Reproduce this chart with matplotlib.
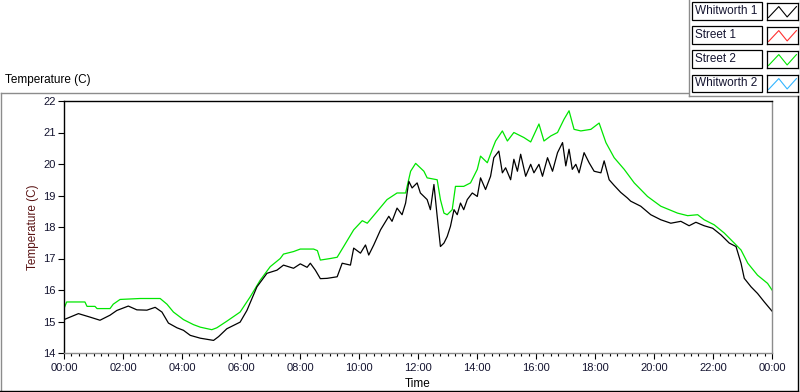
import matplotlib
matplotlib.use("Agg")
import matplotlib.pyplot as plt
from matplotlib.lines import Line2D
from matplotlib.patches import Rectangle
from matplotlib.ticker import MultipleLocator

plt.rcParams['font.family'] = ['Liberation Sans', 'DejaVu Sans']

# ---------------- data ----------------
series_names = ["Whitworth 1", "Street 1", "Street 2", "Whitworth 2"]
series_colors = ["#000000", "#ff3030", "#00e600", "#33b5ff"]

hours_w1 = [0.00, 0.49, 0.88, 1.22, 1.56, 1.79, 2.18, 2.47, 2.81, 3.09, 3.32, 3.54, 3.83,
            4.05, 4.28, 4.62, 5.07, 5.24, 5.52, 5.97, 6.20, 6.54, 6.88, 7.22, 7.44, 7.78,
            8.01, 8.24, 8.35, 8.52, 8.69, 8.92, 9.26, 9.43, 9.71, 9.82, 10.05, 10.22, 10.33,
            10.50, 10.73, 11.01, 11.12, 11.29, 11.46, 11.58, 11.69, 11.80, 11.97, 12.08,
            12.31, 12.42, 12.54, 12.65, 12.76, 12.88, 12.99, 13.10, 13.22, 13.33, 13.44,
            13.55, 13.67, 13.84, 14.01, 14.12, 14.29, 14.46, 14.57, 14.74, 14.86, 14.97,
            15.14, 15.25, 15.37, 15.48, 15.65, 15.82, 15.93, 16.10, 16.22, 16.39, 16.56,
            16.73, 16.90, 17.01, 17.12, 17.23, 17.35, 17.46, 17.63, 17.80, 17.97, 18.20,
            18.31, 18.48, 18.65, 18.87, 19.10, 19.21, 19.55, 19.89, 20.23, 20.57, 20.91,
            21.19, 21.42, 21.70, 21.99, 22.27, 22.55, 22.78, 22.95, 23.06, 23.29, 23.51,
            23.74, 24.00]
temp_w1 = [15.06, 15.25, 15.14, 15.04, 15.20, 15.35, 15.49, 15.37, 15.36, 15.45, 15.30, 14.95, 14.80,
           14.72, 14.56, 14.47, 14.40, 14.52, 14.77, 14.98, 15.35, 16.10, 16.53, 16.63, 16.79, 16.69,
           16.83, 16.72, 16.85, 16.63, 16.36, 16.37, 16.42, 16.85, 16.79, 17.33, 17.17, 17.43, 17.11,
           17.43, 17.91, 18.34, 18.18, 18.60, 18.39, 18.76, 19.45, 19.24, 19.40, 19.08,
           18.87, 18.55, 19.35, 18.34, 17.38, 17.49, 17.70, 18.02, 18.55, 18.39, 18.76,
           18.55, 18.87, 19.08, 18.97, 19.56, 19.19, 19.61, 20.20, 20.41, 19.72, 19.88,
           19.50, 20.15, 19.77, 20.31, 19.61, 19.99, 19.72, 19.99, 19.61, 20.20, 19.77,
           20.36, 20.68, 19.94, 20.47, 19.83, 19.99, 19.72, 20.36, 20.04, 19.77, 19.72,
           20.10, 19.50, 19.32, 19.10, 18.92, 18.82, 18.66, 18.39, 18.23, 18.12, 18.18,
           18.04, 18.15, 18.04, 17.96, 17.75, 17.49, 17.38, 16.85, 16.37, 16.10, 15.89,
           15.62, 15.33]

hours_s2 = [0.00, 0.09, 0.71, 0.78, 1.05, 1.12, 1.56, 1.67, 1.90, 2.58, 3.26, 3.49, 3.71,
            4.05, 4.39, 4.62, 5.01, 5.18, 5.52, 5.97, 6.31, 6.65, 6.99, 7.33, 7.44, 7.78,
            8.01, 8.46, 8.59, 8.69, 9.03, 9.26, 9.48, 9.82, 10.11, 10.28, 10.62, 10.95,
            11.29, 11.58, 11.75, 11.92, 12.20, 12.31, 12.65, 12.76, 12.88, 12.99, 13.16,
            13.27, 13.55, 13.78, 14.01, 14.12, 14.35, 14.52, 14.63, 14.86, 15.03, 15.25,
            15.59, 15.82, 16.10, 16.27, 16.50, 16.73, 16.95, 17.12, 17.29, 17.52, 17.86,
            18.14, 18.37, 18.65, 18.99, 19.33, 19.78, 20.23, 20.80, 21.14, 21.48, 21.70,
            22.04, 22.38, 22.72, 22.95, 23.18, 23.51, 23.85, 24.00]
temp_s2 = [15.41, 15.62, 15.62, 15.48, 15.48, 15.41, 15.41, 15.55, 15.70, 15.73, 15.73, 15.55, 15.30,
           15.06, 14.90, 14.82, 14.74, 14.80, 15.01, 15.30, 15.78, 16.31, 16.74, 17.00, 17.14, 17.22,
           17.30, 17.30, 17.25, 16.95, 17.00, 17.04, 17.38, 17.91, 18.20, 18.12, 18.50, 18.87,
           19.08, 19.08, 19.77, 20.02, 19.77, 19.56, 19.50, 18.87, 18.44, 18.39, 18.55,
           19.29, 19.29, 19.40, 19.83, 20.25, 20.04, 20.47, 20.73, 21.05, 20.73, 21.00,
           20.84, 20.70, 21.27, 20.73, 20.89, 21.00, 21.42, 21.69, 21.10, 21.05, 21.10,
           21.30, 20.68, 20.20, 19.83, 19.40, 18.97, 18.66, 18.44, 18.36, 18.39, 18.23,
           18.07, 17.81, 17.49, 17.27, 16.85, 16.47, 16.21, 16.00]

hours_s1, temp_s1 = [], []
hours_w2, temp_w2 = [], []

x_ticks = [0, 2, 4, 6, 8, 10, 12, 14, 16, 18, 20, 22, 24]
x_labels = ["00:00", "02:00", "04:00", "06:00", "08:00", "10:00", "12:00",
            "14:00", "16:00", "18:00", "20:00", "22:00", "00:00"]
y_ticks = [14, 15, 16, 17, 18, 19, 20, 21, 22]

# ---------------- figure ----------------
W, H = 800, 392
fig = plt.figure(figsize=(W / 100, H / 100), dpi=100)
fig.patch.set_facecolor("white")

def fx(px):
    return px / W

def fy(py):
    return 1 - py / H

GRAY = "#8c8c8c"
TXT = "#141430"

# outer panel frame
fig.add_artist(Line2D([fx(0.5), fx(688)], [fy(92.5), fy(92.5)], color=GRAY, lw=1.0))
fig.add_artist(Line2D([fx(688.5), fx(688.5)], [fy(0), fy(95.5)], color=GRAY, lw=1.0))
fig.add_artist(Line2D([fx(688.5), fx(798)], [fy(95.5), fy(95.5)], color=GRAY, lw=1.0))
fig.add_artist(Line2D([fx(0.5), fx(0.5)], [fy(92.5), fy(391)], color=GRAY, lw=1.0))
fig.add_artist(Line2D([fx(0), fx(798)], [fy(391), fy(391)], color="black", lw=1.0))
fig.add_artist(Line2D([fx(797.8), fx(797.8)], [fy(95.5), fy(391)], color="black", lw=1.0))
fig.add_artist(Line2D([fx(799.5), fx(799.5)], [fy(0), fy(95.5)], color=GRAY, lw=1.0))

# chart title (top-left)
fig.text(fx(5), fy(80), "Temperature (C)", fontsize=8.5, color="black",
         ha="left", va="center")

# main axes
L, R, T, B = 64, 772, 101, 353
ax = fig.add_axes([fx(L), fy(B), fx(R - L), fy(T) - fy(B)])
ax.set_facecolor("white")

ax.plot(hours_s2, temp_s2, color=series_colors[2], lw=0.9)
ax.plot(hours_w1, temp_w1, color=series_colors[0], lw=0.9)
ax.plot(hours_s1, temp_s1, color=series_colors[1], lw=0.9)
ax.plot(hours_w2, temp_w2, color=series_colors[3], lw=0.9)

ax.set_xlim(0, 24)
ax.set_ylim(14, 22)
ax.set_xticks(x_ticks)
ax.set_xticklabels(x_labels)
ax.xaxis.set_minor_locator(MultipleLocator(0.25))
ax.set_yticks(y_ticks)
ax.set_yticklabels([str(v) for v in y_ticks])

ax.tick_params(axis="x", which="major", direction="out", length=4, width=0.8,
               labelsize=8, colors="black", labelcolor=TXT, pad=3)
ax.tick_params(axis="x", which="minor", direction="out", length=2.5, width=0.8,
               colors="black")
ax.tick_params(axis="y", which="major", direction="out", length=4, width=0.8,
               labelsize=8, colors="black", labelcolor=TXT, pad=2)

for side in ("left", "top"):
    ax.spines[side].set_color("black")
    ax.spines[side].set_linewidth(1.0)
for side in ("right", "bottom"):
    ax.spines[side].set_color(GRAY)
    ax.spines[side].set_linewidth(1.0)

ax.set_xlabel("Time", fontsize=8.5, color="black", labelpad=4)
ax.set_ylabel("Temperature (C)", fontsize=8.5, color="#5a1414", labelpad=3)

# custom legend (top-right)
row_tops = [2.5, 26.5, 50.5, 74.5]
row_h = 17
for name, col, top in zip(series_names, series_colors, row_tops):
    fig.add_artist(Rectangle((fx(692), fy(top + row_h)), fx(762 - 692), fy(top) - fy(top + row_h),
                             fill=False, edgecolor="black", lw=0.9))
    fig.text(fx(695), fy(top + row_h / 2 + 0.5), name, fontsize=8.5, color=TXT,
             ha="left", va="center")
    sax = fig.add_axes([fx(767), fy(top + row_h), fx(798 - 767), fy(top) - fy(top + row_h)])
    sax.set_xlim(0, 1)
    sax.set_ylim(0, 1)
    sax.plot([0.05, 0.38, 0.65, 0.95], [0.12, 0.76, 0.15, 0.76], color=col, lw=0.8)
    sax.set_xticks([])
    sax.set_yticks([])
    for sp in sax.spines.values():
        sp.set_color("black")
        sp.set_linewidth(0.9)

fig.savefig("out.png", dpi=100, facecolor="white")
